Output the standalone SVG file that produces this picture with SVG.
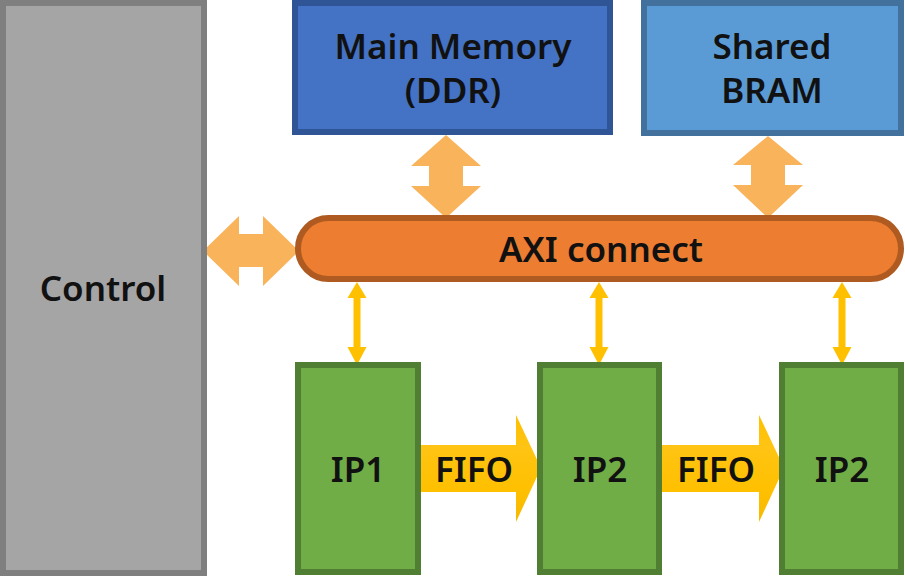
<svg xmlns="http://www.w3.org/2000/svg" width="905" height="576" viewBox="0 0 905 576">
  <defs>
    <linearGradient id="fifoGrad" x1="0" y1="0" x2="0" y2="1">
      <stop offset="0" stop-color="#ffc000"/>
      <stop offset="0.3" stop-color="#ffc414"/>
      <stop offset="0.7" stop-color="#ffc000"/>
      <stop offset="1" stop-color="#f7b900"/>
    </linearGradient>
  </defs>
  <style>
    .lbl { font-family: "Noto Sans", "Open Sans", "DejaVu Sans", sans-serif; font-size: 35px; font-weight: 600; fill: #111111; text-anchor: middle; }
    .ctrl { fill: #a5a5a5; stroke: #7f7f7f; stroke-width: 6; }
    .ddr { fill: #4472c4; stroke: #2f5597; stroke-width: 6; }
    .bram { fill: #5b9bd5; stroke: #41719c; stroke-width: 6; }
    .axi { fill: #ed7d31; stroke: #ae5a21; stroke-width: 6; }
    .ip { fill: #70ad47; stroke: #507e32; stroke-width: 6; }
    .bigarrow { fill: #f9b35b; }
    .smallarrow { fill: #ffc000; }
    .fifo { fill: url(#fifoGrad); }
  </style>

  <g id="connectors">
    <path class="bigarrow" d="M446,135 L481,166 L463,166 L463,186 L481,186 L446,218 L411,186 L429,186 L429,166 L411,166 Z"/>
    <path class="bigarrow" d="M768,136 L803,165 L785,165 L785,185 L803,185 L768,218 L733,185 L751,185 L751,165 L733,165 Z"/>
    <path class="bigarrow" d="M203,251 L239,216 L239,234 L263,234 L263,216 L299,251 L263,286 L263,267 L239,267 L239,286 Z"/>
    <path class="smallarrow" d="M357,282 L366.5,298 L360.5,298 L360.5,347 L366.5,347 L357,365 L347.5,347 L353.5,347 L353.5,298 L347.5,298 Z"/>
    <path class="smallarrow" d="M599,282 L608.5,298 L602.5,298 L602.5,347 L608.5,347 L599,365 L589.5,347 L595.5,347 L595.5,298 L589.5,298 Z"/>
    <path class="smallarrow" d="M842,282 L851.5,298 L845.5,298 L845.5,347 L851.5,347 L842,365 L832.5,347 L838.5,347 L838.5,298 L832.5,298 Z"/>
    <path class="fifo" d="M415,445 L516,445 L516,415 L541,468 L516,522 L516,492 L415,492 Z"/>
    <path class="fifo" d="M657,445 L759,445 L759,415 L784,468 L759,522 L759,492 L657,492 Z"/>
  </g>

  <g id="control">
    <rect class="ctrl" x="3" y="3" width="201" height="570"/>
    <text class="lbl" x="103" y="301">Control</text>
  </g>

  <g id="main-memory">
    <rect class="ddr" x="295" y="3" width="315" height="129"/>
    <text class="lbl" x="453" y="59">Main Memory</text>
    <text class="lbl" x="453" y="103">(DDR)</text>
  </g>

  <g id="shared-bram">
    <rect class="bram" x="644" y="3" width="257" height="130"/>
    <text class="lbl" x="772" y="59">Shared</text>
    <text class="lbl" x="772" y="103">BRAM</text>
  </g>

  <g id="axi-connect">
    <rect class="axi" x="298" y="218" width="603" height="61" rx="30.5" ry="30.5"/>
    <text class="lbl" x="601" y="262">AXI connect</text>
  </g>

  <g id="ip1">
    <rect class="ip" x="298" y="365" width="120" height="207"/>
    <text class="lbl" x="358" y="482">IP1</text>
  </g>

  <g id="ip2">
    <rect class="ip" x="540" y="365" width="119" height="207"/>
    <text class="lbl" x="600" y="482">IP2</text>
  </g>

  <g id="ip3">
    <rect class="ip" x="782" y="365" width="119" height="207"/>
    <text class="lbl" x="842" y="482">IP2</text>
  </g>

  <g id="fifo-labels">
    <text class="lbl" x="474" y="482">FIFO</text>
    <text class="lbl" x="716" y="482">FIFO</text>
  </g>
</svg>
